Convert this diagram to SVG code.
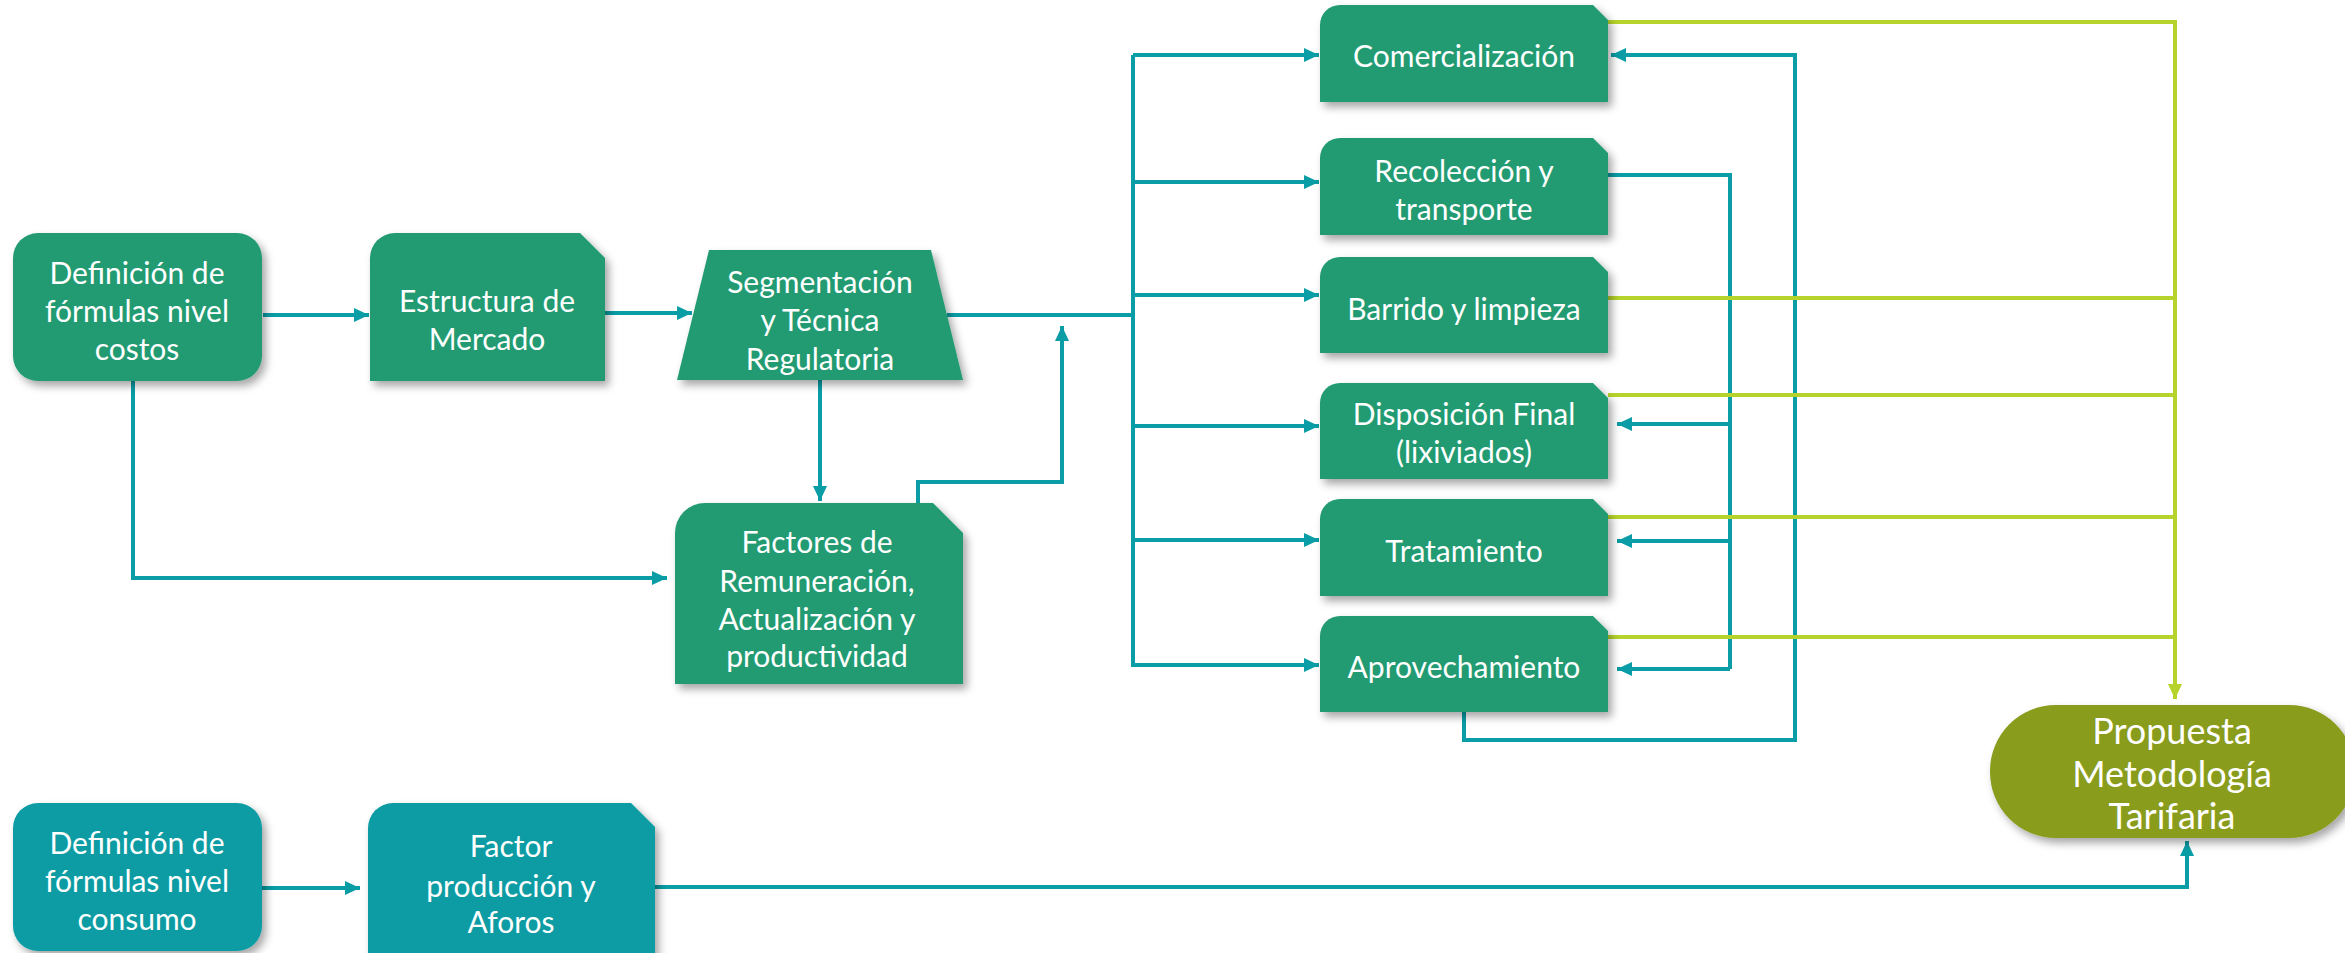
<svg xmlns="http://www.w3.org/2000/svg" width="2345" height="953" viewBox="0 0 2345 953">
<style>
.node{fill:#239B73;filter:url(#sh)}
.tnode{fill:#0A9CA3;filter:url(#sh)}
.pnode{fill:#899C1D;filter:url(#sh)}
.lbl{font-family:Lato,"Liberation Sans",sans-serif;font-size:30px;fill:#ffffff;text-anchor:middle}
.big{font-size:36px}
.tl{fill:none;stroke:#0A9DA5;stroke-width:4}
.gl{fill:none;stroke:#B5D32A;stroke-width:4}
</style>
<defs>
<filter id="sh" x="-10%" y="-10%" width="125%" height="130%">
<feDropShadow dx="4" dy="5" stdDeviation="4" flood-color="#000" flood-opacity="0.35"/>
</filter>
<marker id="at" markerUnits="userSpaceOnUse" markerWidth="16" markerHeight="16" refX="15" refY="8" orient="auto">
<path d="M0,1 L15,8 L0,15 Z" fill="#0A9DA5"/>
</marker>
<marker id="ag" markerUnits="userSpaceOnUse" markerWidth="16" markerHeight="16" refX="15" refY="8" orient="auto">
<path d="M0,1 L15,8 L0,15 Z" fill="#B5D32A"/>
</marker>
</defs>
<rect width="2345" height="953" fill="#ffffff"/>
<g id="connectors">
<path class="tl" d="M263,315 L369,315" marker-end="url(#at)"/>
<path class="tl" d="M605,313 L692,313" marker-end="url(#at)"/>
<path class="tl" d="M947,315 L1133,315"/>
<path class="tl" d="M1133,55 L1133,667"/>
<path class="tl" d="M1133,55 L1319,55" marker-end="url(#at)"/>
<path class="tl" d="M1133,182 L1319,182" marker-end="url(#at)"/>
<path class="tl" d="M1133,295 L1319,295" marker-end="url(#at)"/>
<path class="tl" d="M1133,426 L1319,426" marker-end="url(#at)"/>
<path class="tl" d="M1133,540 L1319,540" marker-end="url(#at)"/>
<path class="tl" d="M1133,665 L1319,665" marker-end="url(#at)"/>
<path class="tl" d="M820,380 L820,501" marker-end="url(#at)"/>
<path class="tl" d="M918,503 L918,482 L1062,482 L1062,326" marker-end="url(#at)"/>
<path class="tl" d="M133,381 L133,578 L667,578" marker-end="url(#at)"/>
<path class="tl" d="M1608,175 L1730,175 L1730,669"/>
<path class="tl" d="M1730,424 L1617,424" marker-end="url(#at)"/>
<path class="tl" d="M1730,541 L1617,541" marker-end="url(#at)"/>
<path class="tl" d="M1730,669 L1617,669" marker-end="url(#at)"/>
<path class="tl" d="M1464,712 L1464,740 L1795,740 L1795,55 L1611,55" marker-end="url(#at)"/>
<path class="tl" d="M262,888 L360,888" marker-end="url(#at)"/>
<path class="tl" d="M655,887 L2187,887 L2187,841" marker-end="url(#at)"/>
<path class="gl" d="M1600,22 L2175,22 L2175,699" marker-end="url(#ag)"/>
<path class="gl" d="M1608,298 L2175,298"/>
<path class="gl" d="M1608,395 L2175,395"/>
<path class="gl" d="M1608,517 L2175,517"/>
<path class="gl" d="M1608,637 L2175,637"/>
</g>
<g id="n-def-costos">
<rect class="node" x="13" y="233" width="249" height="148" rx="25"/>
<text class="lbl" x="137" y="284">Definición de</text>
<text class="lbl" x="137" y="322">fórmulas nivel</text>
<text class="lbl" x="137" y="360">costos</text>
</g>
<g id="n-estructura">
<path class="node" d="M370,381 L370,258 A25,25 0 0 1 395,233 L580,233 L605,258 L605,381 Z"/>
<text class="lbl" x="487" y="312">Estructura de</text>
<text class="lbl" x="487" y="350">Mercado</text>
</g>
<g id="n-segmentacion">
<path class="node" d="M709,250 L931,250 L963,380 L677,380 Z"/>
<text class="lbl" x="820" y="293">Segmentación</text>
<text class="lbl" x="820" y="331">y Técnica</text>
<text class="lbl" x="820" y="370">Regulatoria</text>
</g>
<g id="n-factores">
<path class="node" d="M675,684 L675,533 A30,30 0 0 1 705,503 L933,503 L963,533 L963,684 Z"/>
<text class="lbl" x="817" y="553">Factores de</text>
<text class="lbl" x="817" y="592">Remuneración,</text>
<text class="lbl" x="817" y="630">Actualización y</text>
<text class="lbl" x="817" y="667">productividad</text>
</g>
<g id="n-comercializacion">
<path class="node" d="M1320,102 L1320,25 A20,20 0 0 1 1340,5 L1593,5 L1608,20 L1608,102 Z"/>
<text class="lbl" x="1464" y="67">Comercialización</text>
</g>
<g id="n-recoleccion">
<path class="node" d="M1320,235 L1320,158 A20,20 0 0 1 1340,138 L1593,138 L1608,153 L1608,235 Z"/>
<text class="lbl" x="1464" y="182">Recolección y</text>
<text class="lbl" x="1464" y="220">transporte</text>
</g>
<g id="n-barrido">
<path class="node" d="M1320,353 L1320,277 A20,20 0 0 1 1340,257 L1593,257 L1608,272 L1608,353 Z"/>
<text class="lbl" x="1464" y="320">Barrido y limpieza</text>
</g>
<g id="n-disposicion">
<path class="node" d="M1320,479 L1320,403 A20,20 0 0 1 1340,383 L1593,383 L1608,398 L1608,479 Z"/>
<text class="lbl" x="1464" y="425">Disposición Final</text>
<text class="lbl" x="1464" y="463">(lixiviados)</text>
</g>
<g id="n-tratamiento">
<path class="node" d="M1320,596 L1320,519 A20,20 0 0 1 1340,499 L1593,499 L1608,514 L1608,596 Z"/>
<text class="lbl" x="1464" y="562">Tratamiento</text>
</g>
<g id="n-aprovechamiento">
<path class="node" d="M1320,712 L1320,636 A20,20 0 0 1 1340,616 L1593,616 L1608,631 L1608,712 Z"/>
<text class="lbl" x="1464" y="678">Aprovechamiento</text>
</g>
<g id="n-def-consumo">
<rect class="tnode" x="13" y="803" width="249" height="148" rx="25"/>
<text class="lbl" x="137" y="854">Definición de</text>
<text class="lbl" x="137" y="892">fórmulas nivel</text>
<text class="lbl" x="137" y="930">consumo</text>
</g>
<g id="n-factor-produccion">
<path class="tnode" d="M368,960 L368,828 A25,25 0 0 1 393,803 L631,803 L655,827 L655,960 Z"/>
<text class="lbl" x="511" y="857">Factor</text>
<text class="lbl" x="511" y="897">producción y</text>
<text class="lbl" x="511" y="933">Aforos</text>
</g>
<g id="n-propuesta">
<rect class="pnode" x="1990" y="705" width="365" height="133" rx="66"/>
<text class="lbl big" x="2172" y="744">Propuesta</text>
<text class="lbl big" x="2172" y="787">Metodología</text>
<text class="lbl big" x="2172" y="829">Tarifaria</text>
</g>
</svg>
